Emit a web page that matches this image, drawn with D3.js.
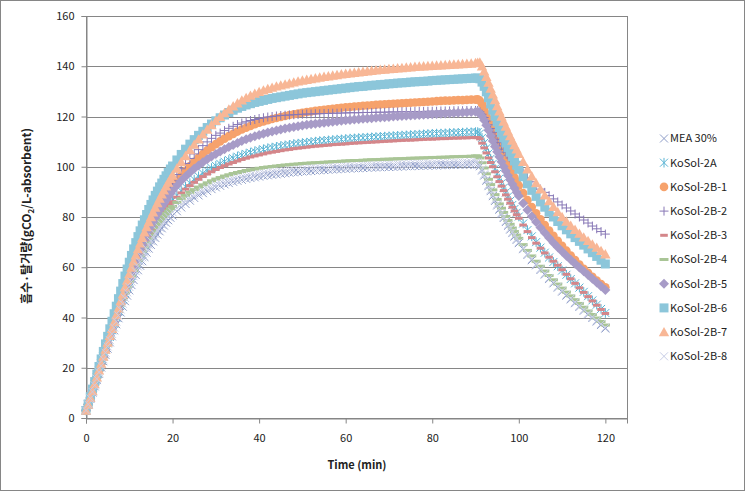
<!DOCTYPE html>
<html><head><meta charset="utf-8">
<script src="https://cdn.jsdelivr.net/npm/d3@7/dist/d3.min.js"></script>
<style>body{margin:0;background:#fff}svg{display:block;font-family:"Noto Sans CJK KR","Noto Sans",sans-serif}</style>
</head><body><svg id="c" width="746" height="492"></svg>
<script>
const time = [0,0.5,1,1.5,2,2.5,3,3.5,4,4.5,5,5.5,6,6.5,7,7.5,8,8.5,9,9.5,10,10.5,11,11.5,12,12.5,13,13.5,14,14.5,15,15.5,16,16.5,17,17.5,18,18.5,19,19.5,20,
21,22,23,24,25,26,27,28,29,30,31,32,33,34,35,36,37,38,39,40,41,42,43,44,45,46,47,48,49,50,51,52,53,54,55,56,57,58,59,60,61,62,63,64,65,66,67,68,69,70,71,72,73,74,75,76,77,78,79,80,81,82,83,84,85,86,87,88,89,90,
90.5,91,91.5,92,92.5,93,93.5,94,94.5,95,95.5,96,96.5,97,97.5,98,98.5,99,99.5,100,
101,102,103,104,105,106,107,108,109,110,111,112,113,114,115,116,117,118,119,120];

const seriesNames = ["MEA 30%","KoSol-2A","KoSol-2B-1","KoSol-2B-2","KoSol-2B-3","KoSol-2B-4","KoSol-2B-5","KoSol-2B-6","KoSol-2B-7","KoSol-2B-8"];

const mea30 = [3,5.2,7.6,10.1,12.6,15.1,17.6,20.1,22.6,25.1,27.6,30.1,32.5,34.9,37.3,39.7,42,44.3,46.5,48.7,50.8,52.9,54.9,56.9,58.8,60.6,62.4,64.1,65.8,67.4,68.9,70.3,71.7,73,74.3,75.5,76.6,77.7,78.7,79.7,80.6,
82.3,83.8,85.2,86.5,87.6,88.6,89.5,90.3,91.1,91.8,92.4,93,93.5,94,94.4,94.8,95.2,95.5,95.8,96.1,96.4,96.6,96.8,97,97.2,97.4,97.6,97.8,97.9,98.1,98.2,98.3,98.5,98.6,98.7,98.8,98.9,99,99.1,99.2,99.3,99.4,99.4,99.5,99.6,99.7,99.7,99.8,99.9,99.9,100,100,100.1,100.2,100.2,100.3,100.3,100.4,100.4,100.5,100.5,100.6,100.6,100.7,100.7,100.8,100.8,100.8,100.9,100.9,
100.9,100.2,98.5,96.5,94.4,92.3,90.3,88.3,86.4,84.6,82.9,81.2,79.6,78,76.5,75,73.6,72.2,70.9,69.6,
67.2,64.9,62.8,60.8,58.9,57.1,55.3,53.6,51.9,50.3,48.7,47.2,45.7,44.2,42.7,41.2,39.8,38.4,37,35.6];

const kosol2A = [3,5.4,8,10.7,13.5,16.2,19,21.7,24.4,27.1,29.7,32.3,34.9,37.5,40,42.5,45,47.4,49.8,52.1,54.4,56.6,58.8,60.9,63,65,67,68.8,70.6,72.3,74,75.5,77,78.4,79.8,81.1,82.3,83.5,84.6,85.7,86.7,
88.6,90.4,92,93.5,94.9,96.2,97.4,98.5,99.5,100.4,101.2,102,102.7,103.4,104,104.6,105.1,105.6,106.1,106.5,106.9,107.3,107.6,107.9,108.2,108.5,108.7,109,109.2,109.4,109.6,109.8,110,110.2,110.3,110.5,110.6,110.8,110.9,111,111.2,111.3,111.4,111.5,111.6,111.7,111.8,111.9,112,112.1,112.2,112.3,112.4,112.5,112.6,112.7,112.8,112.9,113,113.1,113.2,113.2,113.3,113.4,113.5,113.5,113.6,113.7,113.7,113.8,
113.8,113.2,111.5,109.5,107.4,105.3,103.2,101.2,99.2,97.2,95.3,93.4,91.6,89.8,88.1,86.4,84.8,83.2,81.7,80.2,
77.4,74.8,72.3,70,67.8,65.8,63.9,62.1,60.4,58.7,57,55.3,53.6,51.9,50.2,48.5,46.8,45.1,43.4,41.8];

const kosol2B1 = [3,5.4,8,10.7,13.5,16.2,19,21.7,24.5,27.2,30,32.7,35.5,38.2,41,43.6,46.3,48.9,51.5,54,56.5,58.9,61.3,63.6,65.8,67.9,70,72,74,75.9,77.7,79.5,81.2,82.7,84.2,85.6,87,88.3,89.6,90.8,92,
94.3,96.4,98.4,100.3,102,103.6,105.1,106.5,107.8,109,110.1,111.2,112.2,113.1,114,114.8,115.5,116.2,116.9,117.5,118,118.5,119,119.4,119.8,120.2,120.6,120.9,121.2,121.5,121.8,122,122.3,122.5,122.7,122.9,123.1,123.3,123.5,123.7,123.8,124,124.1,124.3,124.4,124.5,124.7,124.8,124.9,125,125.1,125.2,125.3,125.4,125.5,125.6,125.7,125.8,125.9,126,126.1,126.2,126.3,126.3,126.4,126.5,126.5,126.6,126.7,126.7,
126.8,126.3,125,123.2,121.1,119,116.8,114.7,112.6,110.5,108.5,106.5,104.6,102.7,100.9,99.1,97.4,95.7,94.1,92.5,
89.5,86.7,84,81.5,79.1,76.8,74.6,72.5,70.5,68.5,66.6,64.7,62.9,61.1,59.4,57.8,56.2,54.7,53.3,52];

const kosol2B2 = [3,5.4,8,10.7,13.5,16.2,19,21.7,24.5,27.2,30,32.7,35.5,38.2,41,43.7,46.3,48.9,51.5,54.1,56.6,59.1,61.5,63.9,66.2,68.4,70.6,72.7,74.8,76.8,78.7,80.5,82.3,84,85.7,87.3,88.8,90.3,91.7,93.1,94.4,
96.9,99.2,101.3,103.3,105.1,106.8,108.4,109.9,111.3,112.5,113.4,114.4,115.3,116.1,116.8,117.4,117.9,118.4,118.8,119.2,119.5,119.8,120,120.2,120.4,120.5,120.6,120.7,120.8,120.9,121,121,121.1,121.1,121.2,121.2,121.3,121.3,121.4,121.4,121.5,121.5,121.5,121.6,121.6,121.6,121.7,121.7,121.7,121.8,121.8,121.8,121.9,121.9,121.9,122,122,122,122.1,122.1,122.1,122.2,122.2,122.2,122.3,122.3,122.3,122.4,122.4,122.4,
122.4,121.9,120.9,119.6,118.2,116.7,115.2,113.7,112.3,110.9,109.6,108.3,107,105.8,104.6,103.5,102.4,101.3,100.3,99.3,
97.4,95.6,94,92.5,91.1,89.8,88.5,87.2,86,84.8,83.6,82.4,81.2,80,78.8,77.6,76.4,75.3,74.2,73.2];

const kosol2B3 = [3,5.4,8,10.7,13.5,16.2,19,21.7,24.4,27.1,29.7,32.3,34.9,37.5,40,42.5,45,47.4,49.8,52.1,54.4,56.6,58.8,60.9,62.9,64.9,66.8,68.6,70.4,72.1,73.7,75.2,76.7,78.1,79.4,80.7,81.9,83,84.1,85.1,86.1,
87.9,89.6,91.1,92.5,93.8,95,96.1,97.1,98,98.9,99.7,100.4,101.1,101.7,102.3,102.9,103.4,103.9,104.3,104.7,105.1,105.5,105.8,106.1,106.4,106.7,106.9,107.2,107.4,107.6,107.8,108,108.2,108.3,108.5,108.6,108.8,108.9,109,109.1,109.3,109.4,109.5,109.6,109.7,109.8,109.9,110,110.1,110.2,110.3,110.4,110.5,110.6,110.6,110.7,110.8,110.9,111,111,111.1,111.2,111.2,111.3,111.4,111.4,111.5,111.5,111.6,111.6,
111.6,111.1,109.4,107.5,105.5,103.5,101.7,100,98,96,94.1,92.3,90.5,88.8,87.1,85.5,83.9,82.4,80.9,79.5,
76.8,74.2,71.8,69.6,67.6,65.7,64,62.4,60.8,59,57.2,55.4,53.6,51.8,50,48.3,46.6,44.9,43.2,41.6];

const kosol2B4 = [3,5.4,8,10.7,13.5,16.2,19,21.7,24.4,27.1,29.7,32.3,34.9,37.5,40,42.5,45,47.4,49.8,52.1,54.4,56.6,58.7,60.7,62.7,64.6,66.4,68.1,69.8,71.4,72.9,74.3,75.7,77,78.2,79.3,80.4,81.4,82.4,83.3,84.2,
85.8,87.3,88.6,89.8,90.9,91.9,92.8,93.6,94.4,95.1,95.7,96.3,96.8,97.3,97.7,98.1,98.5,98.8,99.1,99.4,99.7,99.9,100.1,100.3,100.5,100.7,100.8,101,101.1,101.3,101.4,101.5,101.6,101.7,101.8,101.9,102,102.1,102.2,102.3,102.4,102.5,102.5,102.6,102.7,102.8,102.8,102.9,103,103,103.1,103.2,103.2,103.3,103.4,103.4,103.5,103.5,103.6,103.7,103.7,103.8,103.8,103.9,104,104,104.1,104.1,104.2,104.3,
104.3,103.5,101.6,99.5,97.2,95,92.9,90.8,88.9,87,85.2,83.5,81.8,80.2,78.6,77.1,75.6,74.2,72.8,71.5,
69,66.7,64.5,62.4,60.4,58.5,56.7,55,53.3,51.7,50.1,48.6,47.1,45.6,44.1,42.6,41.2,39.8,38.4,37];

const kosol2B5 = [3,5.4,8,10.7,13.5,16.2,19,21.7,24.5,27.2,30,32.7,35.4,38.1,40.7,43.3,45.9,48.4,50.9,53.3,55.7,58,60.3,62.5,64.7,66.8,68.8,70.8,72.7,74.5,76.3,78,79.7,81.3,82.8,84.2,85.5,86.8,88.1,89.3,90.5,
92.5,94.4,96.1,97.7,99.2,100.5,101.8,103,104.1,105.1,106.1,107,107.9,108.7,109.5,110.2,110.9,111.5,112.1,112.6,113.1,113.6,114,114.4,114.8,115.2,115.5,115.8,116.1,116.4,116.7,116.9,117.1,117.3,117.5,117.7,117.9,118.1,118.3,118.5,118.6,118.8,118.9,119.1,119.2,119.3,119.5,119.6,119.7,119.8,120,120.1,120.2,120.3,120.4,120.5,120.6,120.7,120.8,120.9,121,121.1,121.2,121.3,121.4,121.5,121.6,121.7,121.8,121.9,
121.9,121.4,120.1,118.5,116.5,114.5,112.3,110.2,108.1,106,104,102,100.1,98.3,96.5,94.8,93.1,91.5,89.9,88.4,
85.5,82.8,80.3,78,75.8,73.7,71.7,69.8,68,66.3,64.6,63,61.4,59.9,58.4,56.9,55.4,53.9,52.4,50.9];

const kosol2B6 = [3,5.6,8.5,11.5,14.5,17.5,20.5,23.5,26.5,29.5,32.5,35.5,38.5,41.5,44.5,47.5,50.5,53.5,56.5,59.3,62,64.7,67.3,69.8,72.2,74.5,76.8,78.9,81,83,85,86.8,88.6,90.3,92,93.5,95,96.4,97.8,99.1,100.3,
102.7,104.9,107,109,110.8,112.5,114.1,115.6,117,118.3,119.5,120.6,121.6,122.5,123.3,124,124.6,125.1,125.6,126,126.4,126.8,127.2,127.5,127.8,128.1,128.4,128.7,129,129.3,129.5,129.7,129.9,130.1,130.3,130.5,130.7,130.9,131.1,131.3,131.5,131.7,131.9,132,132.2,132.4,132.5,132.7,132.8,133,133.1,133.3,133.4,133.5,133.7,133.8,133.9,134,134.1,134.3,134.4,134.5,134.6,134.7,134.8,134.9,135,135.1,135.2,135.3,
135.3,135,133.7,132,129.8,127.5,125,122.5,120.1,117.8,115.6,113.5,111.5,109.5,107.6,105.8,104,102.3,100.6,99,
96,93.2,90.6,88.2,86,83.9,81.9,80,78.2,76.5,74.9,73.3,71.8,70.3,68.8,67.3,65.8,64.3,62.8,61.3];

const kosol2B7 = [3,5.4,8,10.7,13.5,16.2,19,21.7,24.5,27.2,30,32.7,35.5,38.2,41,43.7,46.5,49.2,52,54.7,57.3,59.9,62.4,64.8,67.2,69.5,71.7,73.9,76,78,80,81.9,83.8,85.6,87.3,89,90.6,92.2,93.7,95.2,96.6,
99.3,101.9,104.3,106.6,108.8,110.9,112.9,114.8,116.6,118.3,119.9,121.4,122.8,124.1,125.3,126.4,127.4,128.3,129.1,129.8,130.4,131,131.5,132,132.4,132.8,133.2,133.6,134,134.3,134.6,134.9,135.2,135.5,135.8,136,136.3,136.5,136.8,137,137.2,137.4,137.6,137.8,138,138.2,138.4,138.6,138.7,138.9,139,139.2,139.3,139.5,139.6,139.8,139.9,140,140.1,140.2,140.3,140.4,140.5,140.6,140.7,140.8,140.9,141,141.1,141.3,
141.4,141.5,140,138,135.8,133.5,131.1,128.8,126.5,124.2,122.1,120,118,116,114.1,112.2,110.4,108.6,106.9,105.2,
102,99,96.2,93.5,91,88.6,86.3,84.1,82,80,78.2,76.5,74.9,73.4,71.9,70.5,69.1,67.8,66.5,65.2];

const kosol2B8 = [3,5.4,7.8,10.4,13,15.6,18.2,20.8,23.4,26,28.5,31,33.5,36,38.4,40.8,43.2,45.5,47.8,50,52.2,54.3,56.4,58.4,60.3,62.2,64,65.7,67.4,69,70.5,71.9,73.3,74.6,75.8,77,78.1,79.1,80.1,81,81.9,
83.5,85,86.3,87.5,88.6,89.6,90.5,91.3,92.1,92.8,93.4,94,94.5,95,95.4,95.8,96.2,96.5,96.8,97.1,97.4,97.6,97.8,98,98.2,98.4,98.6,98.7,98.9,99,99.1,99.3,99.4,99.5,99.6,99.7,99.8,99.9,100,100.1,100.2,100.2,100.3,100.4,100.5,100.5,100.6,100.7,100.7,100.8,100.8,100.9,101,101,101.1,101.1,101.2,101.2,101.3,101.3,101.4,101.4,101.5,101.5,101.6,101.6,101.7,101.7,101.8,101.8,
101.8,100.8,99,97,94.9,92.8,90.8,88.8,86.9,85.1,83.3,81.6,80,78.4,76.9,75.4,74,72.6,71.3,70,
67.6,65.3,63.2,61.2,59.3,57.5,55.7,54,52.3,50.7,49.1,47.6,46.1,44.6,43.1,41.6,40.2,38.8,37.4,36];

const xTicks = [0,20,40,60,80,100,120];
const yTicks = [0,20,40,60,80,100,120,140,160];

const seriesValues = [mea30,kosol2A,kosol2B1,kosol2B2,kosol2B3,kosol2B4,kosol2B5,kosol2B6,kosol2B7,kosol2B8];
const seriesColors = ["#8E9DC8","#5AB4D4","#F6A26C","#8878B6","#D4868A","#A9C596","#A79BC7","#8CC6DA","#F8B796","#C7CDE6"];
const seriesMarkers = ["cross","asterisk","circle","plus","dash","dashLong","diamond","square","triangle","cross"];

const markerPath = {
  cross: "M-4,-4L4,4M-4,4L4,-4",
  asterisk: "M-4,-4L4,4M-4,4L4,-4M0,-4.8V4.8",
  plus: "M-4.5,0H4.5M0,-4.5V4.5",
  dash: "M-3.8,-1.5H3.8V1.5H-3.8Z",
  dashLong: "M-4.5,-1.5H4.5V1.5H-4.5Z",
  circle: "M4.3,0A4.3,4.3,0,1,1,-4.3,0A4.3,4.3,0,1,1,4.3,0Z",
  diamond: "M0,-5L5,0L0,5L-5,0Z",
  square: "M-4.5,-4.5H4.5V4.5H-4.5Z",
  triangle: "M0,-5.2L5.2,4.2L-5.2,4.2Z"
};
const strokeOnly = {cross:true, asterisk:true, plus:true};

const svg = d3.select("#c");
const L=86, R=627, T=16, B=418;
const x = d3.scaleLinear().domain([0,125]).range([L,R]);
const y = d3.scaleLinear().domain([0,160]).range([B,T]);
const grey = "#868686";

svg.append("rect").attr("x",0.5).attr("y",0.5).attr("width",744).attr("height",490)
  .attr("fill","#fff").attr("stroke",grey);

svg.append("g").selectAll("line").data(yTicks.filter(d=>d>0)).join("line")
  .attr("x1",L).attr("x2",R).attr("y1",d=>Math.round(y(d))+0.5).attr("y2",d=>Math.round(y(d))+0.5)
  .attr("stroke",grey).attr("stroke-width",1);
svg.append("rect").attr("x",L+0.5).attr("y",T+0.5).attr("width",R-L).attr("height",B-T)
  .attr("fill","none").attr("stroke",grey);

const ax = svg.append("g").attr("transform",`translate(0,${B+0.5})`)
  .call(d3.axisBottom(x).tickValues(xTicks).tickSize(5).tickPadding(11).tickFormat(d3.format("d")));
const ay = svg.append("g").attr("transform",`translate(${L+0.5},0)`)
  .call(d3.axisLeft(y).tickValues(yTicks).tickSize(5).tickPadding(7).tickFormat(d3.format("d")));
[ax,ay].forEach(g=>{
  g.selectAll("path.domain").attr("stroke",grey);
  g.selectAll("line").attr("stroke",grey);
  g.selectAll("text").attr("font-size",11).attr("fill","#222")
    .attr("font-family",'"Noto Sans CJK KR","Noto Sans",sans-serif');
});

const plot = svg.append("g");
seriesValues.forEach((vals,i)=>{
  const m = seriesMarkers[i];
  const pts = time.map((t,j)=>[t, vals[j]]).filter(p=>p[1]!=null);
  plot.append("g").selectAll("path").data(pts).join("path")
    .attr("transform",d=>`translate(${x(d[0])},${y(d[1])})`)
    .attr("d",markerPath[m])
    .attr("fill",strokeOnly[m]?"none":seriesColors[i])
    .attr("stroke",strokeOnly[m]?seriesColors[i]:"none")
    .attr("stroke-width",1);
});

const lg = svg.append("g");
seriesNames.forEach((name,i)=>{
  const cy = 138.5 + i*24.2;
  const m = seriesMarkers[i];
  lg.append("path").attr("transform",`translate(664,${cy})`).attr("d",markerPath[m])
    .attr("fill",strokeOnly[m]?"none":seriesColors[i])
    .attr("stroke",strokeOnly[m]?seriesColors[i]:"none");
  lg.append("text").attr("x",670).attr("y",cy).attr("dy","0.36em")
    .attr("font-size",11).attr("fill","#222").text(name);
});

svg.append("text").attr("x",357).attr("y",469).attr("text-anchor","middle")
  .attr("font-size",11).attr("font-weight","bold").attr("fill","#222").text("Time (min)");
const yt = svg.append("text").attr("transform","translate(31,216) rotate(-90)")
  .attr("text-anchor","middle").attr("font-size",12).attr("font-weight","bold").attr("fill","#222");
yt.append("tspan").text("흡수·탈거량(gCO");
yt.append("tspan").attr("font-size",8).attr("dy",3).text("2");
yt.append("tspan").attr("dy",-3).text("/L-absorbent)");
</script></body></html>
